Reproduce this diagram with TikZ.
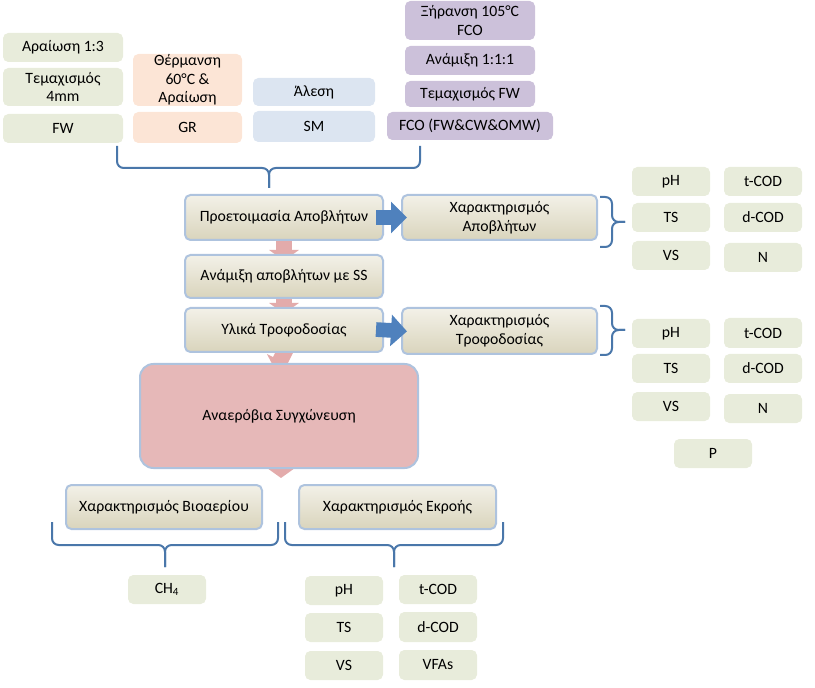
\documentclass[tikz,border=0pt]{standalone}
\usepackage{fontspec}
\setmainfont{Carlito}
\usetikzlibrary{arrows.meta,backgrounds}

\definecolor{grn}{HTML}{E8ECDB}
\definecolor{orn}{HTML}{FCE5D6}
\definecolor{lbl}{HTML}{DCE5F1}
\definecolor{prp}{HTML}{CCC1DA}
\definecolor{tanA}{HTML}{F3F1E8}
\definecolor{tanB}{HTML}{D9D4BC}
\definecolor{bord}{HTML}{AEC3DE}
\definecolor{pnk}{HTML}{E6B8B8}
\definecolor{pnkarr}{HTML}{E3ABAB}
\definecolor{brc}{HTML}{4A77AA}
\definecolor{blarr}{HTML}{4F81BD}

% box from its corners: style, name, x1, y1, x2, y2, text
\newcommand\cbox[7]{%
  \node[#1, minimum width={(#5-#3)*0.75pt}, minimum height={(#6-#4)*0.75pt}]
    (#2) at ({(#3+#5)/2},{(#4+#6)/2}) {#7};}

\begin{document}
\begin{tikzpicture}[x=0.75pt,y=-0.75pt,
    font=\fontsize{11.8}{14}\selectfont,
    box/.style={rounded corners=4pt, inner sep=0pt, align=center},
    grnbox/.style={box, fill=grn},
    ornbox/.style={box, fill=orn},
    lblbox/.style={box, fill=lbl},
    prpbox/.style={box, fill=prp},
    stagebox/.style={box, top color=tanA, bottom color=tanB, draw=bord, line width=1.5pt},
    digbox/.style={box, rounded corners=10pt, fill=pnk, draw=bord, line width=1.5pt},
    brace/.style={draw=brc, line width=1.5pt, rounded corners=5pt},
    downarr/.style={draw=pnkarr, line width=12pt, -{Triangle[width=22pt,length=8pt]}},
    rightarr/.style={draw=blarr, line width=11pt, -{Triangle[width=23pt,length=12pt]}}]
\useasboundingbox (0,0) rectangle (815,688);

% pretreatment of each waste
\cbox{grnbox}{dil}{3}{33}{123}{62}{Αραίωση 1:3}
\cbox{grnbox}{chop}{3}{68}{123}{106}{Τεμαχισμός\\4mm}
\cbox{grnbox}{fw}{3}{114}{123}{143}{FW}
\cbox{ornbox}{heat}{133}{54}{242}{106}{Θέρμανση\\60°C \&\\Αραίωση}
\cbox{ornbox}{gr}{133}{112}{242}{143}{GR}
\cbox{lblbox}{mill}{253}{78}{375}{106}{Άλεση}
\cbox{lblbox}{sm}{253}{111}{375}{142}{SM}
\cbox{prpbox}{dry}{405}{1}{535}{40}{Ξήρανση 105°C\\FCO}
\cbox{prpbox}{mixfco}{405}{46}{535}{75}{Ανάμιξη 1:1:1}
\cbox{prpbox}{chopfw}{405}{81}{535}{107}{Τεμαχισμός FW}
\cbox{prpbox}{fco}{387}{112}{553}{140}{FCO (FW\&CW\&OMW)}

% main stages
\cbox{stagebox}{prep}{185}{195}{383}{240}{Προετοιμασία Αποβλήτων}
\cbox{stagebox}{mix}{185}{255}{383}{298}{Ανάμιξη αποβλήτων με SS}
\cbox{stagebox}{feed}{185}{308}{383}{352}{Υλικά Τροφοδοσίας}
\cbox{digbox}{ad}{140}{364}{418}{468}{Αναερόβια Συγχώνευση}
\cbox{stagebox}{charw}{402}{195}{597}{240}{Χαρακτηρισμός\\Αποβλήτων}
\cbox{stagebox}{charf}{402}{308}{597}{354}{Χαρακτηρισμός\\Τροφοδοσίας}
\cbox{stagebox}{charb}{66}{485}{262}{529}{Χαρακτηρισμός Βιοαερίου}
\cbox{stagebox}{chare}{299}{485}{496}{529}{Χαρακτηρισμός Εκροής}
\coordinate (adout) at (281,478);

% parameters of the wastes
\cbox{grnbox}{wph}{632}{167}{710}{196}{pH}
\cbox{grnbox}{wtcod}{724}{167}{802}{196}{t-COD}
\cbox{grnbox}{wts}{632}{203}{710}{232}{TS}
\cbox{grnbox}{wdcod}{724}{203}{802}{232}{d-COD}
\cbox{grnbox}{wvs}{632}{241}{710}{270}{VS}
\cbox{grnbox}{wn}{724}{243}{802}{272}{N}

% parameters of the feed
\cbox{grnbox}{fph}{632}{319}{710}{348}{pH}
\cbox{grnbox}{ftcod}{724}{318}{802}{348}{t-COD}
\cbox{grnbox}{fts}{632}{354}{710}{383}{TS}
\cbox{grnbox}{fdcod}{724}{354}{802}{383}{d-COD}
\cbox{grnbox}{fvs}{632}{392}{710}{421}{VS}
\cbox{grnbox}{fn}{724}{394}{802}{423}{N}
\cbox{grnbox}{fp}{674}{439}{752}{468}{P}

% biogas and effluent
\cbox{grnbox}{ch}{128}{575}{206}{604}{CH\textsubscript{4}}
\cbox{grnbox}{eph}{305}{576}{383}{605}{pH}
\cbox{grnbox}{etcod}{399}{575}{477}{604}{t-COD}
\cbox{grnbox}{ets}{305}{613}{383}{642}{TS}
\cbox{grnbox}{edcod}{399}{612}{477}{642}{d-COD}
\cbox{grnbox}{evs}{305}{651}{383}{680}{VS}
\cbox{grnbox}{evfa}{399}{650}{477}{680}{VFAs}

\begin{scope}[on background layer]
  \draw[downarr, shorten <=-3pt, shorten >=-5pt] (prep.south) -- (mix.north);
  \draw[downarr, shorten <=-3pt, shorten >=-5pt] (mix.south) -- (feed.north);
  \draw[downarr, shorten <=-3pt, shorten >=-6pt] (feed.south) -- (ad.north);
  \draw[downarr, shorten <=3pt] (ad.south -| adout) -- (adout);
\end{scope}
\draw[rightarr, shorten <=-6pt, shorten >=-4.5pt] (prep.east) -- (charw.west);
\draw[rightarr, shorten <=-6pt, shorten >=-4.5pt] (feed.east) -- (charf.west);

% braces
\draw[brace] (117,146) -- (117,168) -- (269,168) -- (269,188);
\draw[brace] (420,146) -- (420,168) -- (269,168) -- (269,188);
\draw[brace] (600,197) -- (612,197) -- (612,222) -- (625,222);
\draw[brace] (600,247) -- (612,247) -- (612,222) -- (625,222);
\draw[brace] (600,306) -- (612,306) -- (612,330) -- (625,330);
\draw[brace] (600,355) -- (612,355) -- (612,330) -- (625,330);
\draw[brace] (52,522) -- (52,545) -- (165,545) -- (165,567);
\draw[brace] (278,522) -- (278,545) -- (165,545) -- (165,567);
\draw[brace] (285,522) -- (285,545) -- (394,545) -- (394,567);
\draw[brace] (503,522) -- (503,545) -- (394,545) -- (394,567);
\end{tikzpicture}
\end{document}
